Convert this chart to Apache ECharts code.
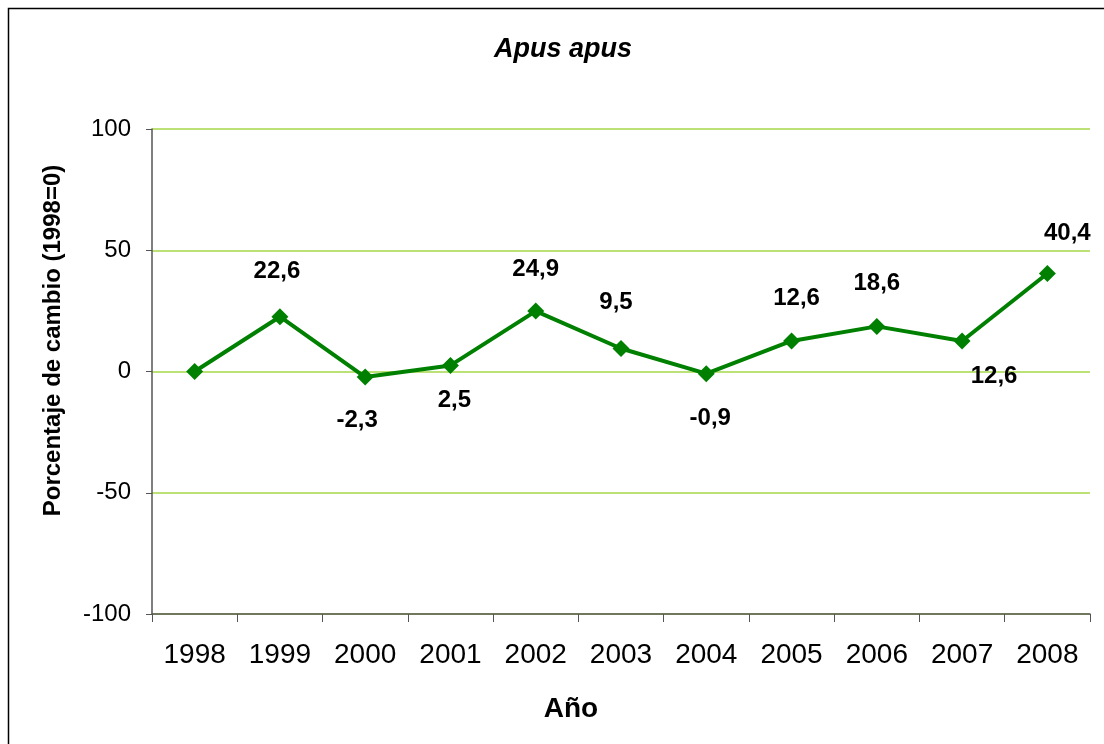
<!DOCTYPE html>
<html>
<head>
<meta charset="utf-8">
<script src="https://cdn.jsdelivr.net/npm/echarts@6/dist/echarts.min.js"></script>
<style>
  html, body { margin: 0; padding: 0; background: #fff; }
  #main { width: 1104px; height: 744px; }
</style>
</head>
<body>
<div id="main"></div>
<script>
  const years = ['1998', '1999', '2000', '2001', '2002', '2003', '2004', '2005', '2006', '2007', '2008'];
  const cambio = [0, 22.6, -2.3, 2.5, 24.9, 9.5, -0.9, 12.6, 18.6, 12.6, 40.4];
  const yTicks = [-100, -50, 0, 50, 100];

  // where each value label sits relative to its point (0 has none)
  const labelShift = [null, [-3, -45], [-8, 43], [4, 35], [0, -42], [-5, -46], [4, 45], [5, -43], [0, -43], [32, 35], [20, -40]];

  const points = cambio.map((v, i) => {
    const s = labelShift[i];
    return {
      value: v,
      label: s ? { show: true, position: 'inside', offset: s } : { show: false }
    };
  });

  const myChart = echarts.init(document.getElementById('main'));
  const option = {
    animation: false,
    textStyle: { fontFamily: 'Liberation Sans, Arial, sans-serif' },
    title: {
      text: 'Apus apus',
      left: 558,
      top: 31,
      textAlign: 'center',
      textStyle: { fontSize: 27, fontWeight: 'bold', fontStyle: 'italic', color: '#000' }
    },
    graphic: [{
      type: 'rect',
      shape: { x: 8.5, y: 8.5, width: 1110, height: 750 },
      style: { fill: 'none', stroke: '#000', lineWidth: 1.5 },
      silent: true
    }],
    grid: { left: 152, right: 14, top: 129, bottom: 130 },
    xAxis: {
      type: 'category',
      data: years,
      boundaryGap: true,
      name: 'Año',
      nameLocation: 'middle',
      nameGap: 81,
      nameTextStyle: { fontSize: 28, fontWeight: 'bold', color: '#000', padding: [0, 100, 0, 0] },
      axisLine: { onZero: false, lineStyle: { color: '#555', width: 1.5 } },
      axisTick: { show: true, length: 8, interval: 0, inside: false, lineStyle: { color: '#555' } },
      axisLabel: { fontSize: 28, color: '#000', margin: 27, interval: 0 },
      splitLine: { show: false }
    },
    yAxis: {
      type: 'value',
      min: yTicks[0],
      max: yTicks[yTicks.length - 1],
      interval: 50,
      name: 'Porcentaje de cambio (1998=0)',
      nameLocation: 'middle',
      nameGap: 87,
      nameTextStyle: { fontSize: 24, fontWeight: 'bold', color: '#000', padding: [0, 0, 0, 62] },
      axisLine: { show: true, lineStyle: { color: '#555', width: 1.5 } },
      axisTick: { show: true, length: 6, lineStyle: { color: '#555' } },
      axisLabel: { fontSize: 24, color: '#000', margin: 21 },
      splitLine: { show: true, lineStyle: { color: '#a6d94a', width: 1.5 } }
    },
    series: [{
      type: 'line',
      data: points,
      symbol: 'diamond',
      symbolSize: 17,
      lineStyle: { color: '#008000', width: 4 },
      itemStyle: { color: '#008000' },
      label: {
        fontSize: 24,
        fontWeight: 'bold',
        color: '#000',
        formatter: p => String(p.value).replace('.', ',')
      }
    }]
  };
  myChart.setOption(option);
</script>
</body>
</html>
